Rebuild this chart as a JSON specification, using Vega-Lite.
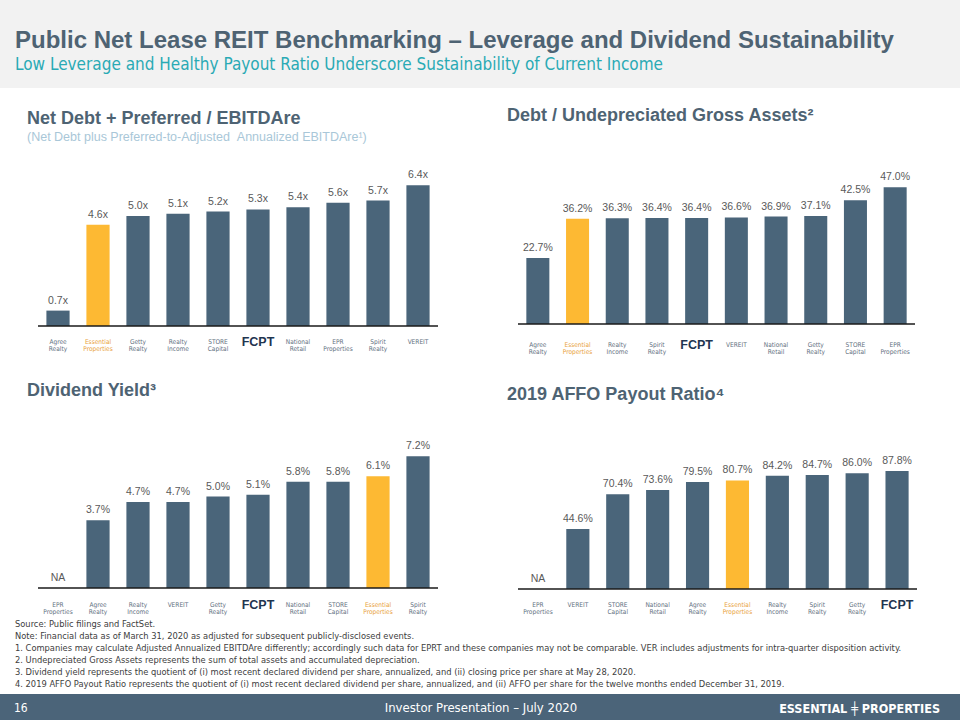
{
  "$schema": "https://vega.github.io/schema/vega-lite/v6.json",
  "background": "white",
  "padding": 0,
  "spacing": 0,
  "config": {"view": {"stroke": null}, "font": "Liberation Sans", "concat": {"spacing": 0}},
  "datasets": {
    "lev": [
      {"company": "Agree Realty", "value": 0.7, "label": "0.7x"},
      {"company": "Essential Properties", "value": 4.6, "label": "4.6x"},
      {"company": "Getty Realty", "value": 5.0, "label": "5.0x"},
      {"company": "Realty Income", "value": 5.1, "label": "5.1x"},
      {"company": "STORE Capital", "value": 5.2, "label": "5.2x"},
      {"company": "FCPT", "value": 5.3, "label": "5.3x"},
      {"company": "National Retail", "value": 5.4, "label": "5.4x"},
      {"company": "EPR Properties", "value": 5.6, "label": "5.6x"},
      {"company": "Spirit Realty", "value": 5.7, "label": "5.7x"},
      {"company": "VEREIT", "value": 6.4, "label": "6.4x"}
    ],
    "debt": [
      {"company": "Agree Realty", "value": 22.7, "label": "22.7%"},
      {"company": "Essential Properties", "value": 36.2, "label": "36.2%"},
      {"company": "Realty Income", "value": 36.3, "label": "36.3%"},
      {"company": "Spirit Realty", "value": 36.4, "label": "36.4%"},
      {"company": "FCPT", "value": 36.4, "label": "36.4%"},
      {"company": "VEREIT", "value": 36.6, "label": "36.6%"},
      {"company": "National Retail", "value": 36.9, "label": "36.9%"},
      {"company": "Getty Realty", "value": 37.1, "label": "37.1%"},
      {"company": "STORE Capital", "value": 42.5, "label": "42.5%"},
      {"company": "EPR Properties", "value": 47.0, "label": "47.0%"}
    ],
    "yield": [
      {"company": "EPR Properties", "value": null, "label": "NA"},
      {"company": "Agree Realty", "value": 3.7, "label": "3.7%"},
      {"company": "Realty Income", "value": 4.7, "label": "4.7%"},
      {"company": "VEREIT", "value": 4.7, "label": "4.7%"},
      {"company": "Getty Realty", "value": 5.0, "label": "5.0%"},
      {"company": "FCPT", "value": 5.1, "label": "5.1%"},
      {"company": "National Retail", "value": 5.8, "label": "5.8%"},
      {"company": "STORE Capital", "value": 5.8, "label": "5.8%"},
      {"company": "Essential Properties", "value": 6.1, "label": "6.1%"},
      {"company": "Spirit Realty", "value": 7.2, "label": "7.2%"}
    ],
    "payout": [
      {"company": "EPR Properties", "value": null, "label": "NA"},
      {"company": "VEREIT", "value": 44.6, "label": "44.6%"},
      {"company": "STORE Capital", "value": 70.4, "label": "70.4%"},
      {"company": "National Retail", "value": 73.6, "label": "73.6%"},
      {"company": "Agree Realty", "value": 79.5, "label": "79.5%"},
      {"company": "Essential Properties", "value": 80.7, "label": "80.7%"},
      {"company": "Realty Income", "value": 84.2, "label": "84.2%"},
      {"company": "Spirit Realty", "value": 84.7, "label": "84.7%"},
      {"company": "Getty Realty", "value": 86.0, "label": "86.0%"},
      {"company": "FCPT", "value": 87.8, "label": "87.8%"}
    ]
  },
  "vconcat": [
    {
      "width": 960, "height": 88,
      "view": {"fill": "#f2f2f2", "stroke": null},
      "data": {"values": []},
      "mark": "point",
      "title": {
        "text": "Public Net Lease REIT Benchmarking – Leverage and Dividend Sustainability",
        "subtitle": "Low Leverage and Healthy Payout Ratio Underscore Sustainability of Current Income",
        "anchor": "start", "frame": "group", "orient": "top", "offset": -73, "dx": 15,
        "font": "Liberation Sans", "fontSize": 24, "fontWeight": "bold", "color": "#4E6373",
        "subtitleFont": "DejaVu Sans Condensed, sans-serif", "subtitleFontSize": 17, "subtitleColor": "#2AAAB5", "subtitlePadding": 4
      }
    },
    {
      "spacing": 0,
      "bounds": "flush",
      "hconcat": [
        {"width": 38, "height": 1, "data": {"values": []}, "mark": "point"},
        {
          "width": 400, "height": 272,
          "data": {"name": "lev"},
          "title": {
            "text": "Net Debt + Preferred / EBITDAre",
            "subtitle": "(Net Debt plus Preferred-to-Adjusted \u00a0Annualized EBITDAre¹)",
            "anchor": "start", "frame": "group", "orient": "top", "offset": -55, "dx": -11,
            "font": "Liberation Sans", "fontSize": 18, "fontWeight": "bold", "color": "#4E6373",
            "subtitleFont": "Liberation Sans", "subtitleFontSize": 12.5, "subtitleColor": "#A9C7D8", "subtitlePadding": 3
          },
          "layer": [
            {"mark": {"type": "bar"}, "encoding": {
              "x": {"field": "company", "type": "nominal", "sort": null, "scale": {"domain": ["Agree Realty", "Essential Properties", "Getty Realty", "Realty Income", "STORE Capital", "FCPT", "National Retail", "EPR Properties", "Spirit Realty", "VEREIT"], "paddingInner": 0.42, "paddingOuter": 0.21}, "axis": null},
              "y": {"field": "value", "type": "quantitative", "scale": {"domain": [-1.545, 10.818], "nice": false, "zero": false}, "axis": null},
              "color": {"condition": {"test": "datum.company === 'Essential Properties'", "value": "#FDB933"}, "value": "#4A657A"}}},
            {"mark": {"type": "text", "baseline": "bottom", "dy": -5, "fontSize": 10.5, "color": "#595959"}, "encoding": {
              "x": {"field": "company", "type": "nominal", "sort": null},
              "y": {"field": "value", "type": "quantitative"}, "text": {"field": "label"}}},
            {"transform": [{"filter": "datum.company !== 'FCPT'"}], "mark": {"type": "text", "baseline": "middle", "lineBreak": " ", "lineHeight": 7, "fontSize": 6.5, "dy": 16, "font": "DejaVu Sans Condensed"}, "encoding": {
              "x": {"field": "company", "type": "nominal", "sort": null},
              "y": {"datum": 0, "type": "quantitative"}, "text": {"field": "company"},
              "color": {"condition": {"test": "datum.company === 'Essential Properties'", "value": "#E9A23B"}, "value": "#5F7080"}}},
            {"transform": [{"filter": "datum.company === 'FCPT'"}], "mark": {"type": "text", "baseline": "middle", "fontSize": 12.5, "fontWeight": "bold", "dy": 16, "color": "#1F3550"}, "encoding": {
              "x": {"field": "company", "type": "nominal", "sort": null},
              "y": {"datum": 0, "type": "quantitative"}, "text": {"field": "company"}}},
            {"data": {"values": [{}]}, "mark": {"type": "rule", "color": "#1a1a1a", "strokeWidth": 1.5}, "encoding": {"y": {"datum": 0, "type": "quantitative"}}}
          ]
        },
        {"width": 80, "height": 1, "data": {"values": []}, "mark": "point"},
        {
          "width": 397, "height": 272,
          "data": {"name": "debt"},
          "title": {
            "text": "Debt / Undepreciated Gross Assets²",
            "anchor": "start", "frame": "group", "orient": "top", "offset": -37, "dx": -11,
            "font": "Liberation Sans", "fontSize": 18, "fontWeight": "bold", "color": "#4E6373"
          },
          "layer": [
            {"mark": {"type": "bar"}, "encoding": {
              "x": {"field": "company", "type": "nominal", "sort": null, "scale": {"domain": ["Agree Realty", "Essential Properties", "Realty Income", "Spirit Realty", "FCPT", "VEREIT", "National Retail", "Getty Realty", "STORE Capital", "EPR Properties"], "paddingInner": 0.42, "paddingOuter": 0.21}, "axis": null},
              "y": {"field": "value", "type": "quantitative", "scale": {"domain": [-12.371, 81.1], "nice": false, "zero": false}, "axis": null},
              "color": {"condition": {"test": "datum.company === 'Essential Properties'", "value": "#FDB933"}, "value": "#4A657A"}}},
            {"mark": {"type": "text", "baseline": "bottom", "dy": -5, "fontSize": 10.5, "color": "#595959"}, "encoding": {
              "x": {"field": "company", "type": "nominal", "sort": null},
              "y": {"field": "value", "type": "quantitative"}, "text": {"field": "label"}}},
            {"transform": [{"filter": "datum.company !== 'FCPT'"}], "mark": {"type": "text", "baseline": "middle", "lineBreak": " ", "lineHeight": 7, "fontSize": 6.5, "dy": 21, "font": "DejaVu Sans Condensed"}, "encoding": {
              "x": {"field": "company", "type": "nominal", "sort": null},
              "y": {"datum": 0, "type": "quantitative"}, "text": {"field": "company"},
              "color": {"condition": {"test": "datum.company === 'Essential Properties'", "value": "#E9A23B"}, "value": "#5F7080"}}},
            {"transform": [{"filter": "datum.company === 'FCPT'"}], "mark": {"type": "text", "baseline": "middle", "fontSize": 12.5, "fontWeight": "bold", "dy": 21, "color": "#1F3550"}, "encoding": {
              "x": {"field": "company", "type": "nominal", "sort": null},
              "y": {"datum": 0, "type": "quantitative"}, "text": {"field": "company"}}},
            {"data": {"values": [{}]}, "mark": {"type": "rule", "color": "#1a1a1a", "strokeWidth": 1.5}, "encoding": {"y": {"datum": 0, "type": "quantitative"}}}
          ]
        }
      ]
    },
    {
      "spacing": 0,
      "bounds": "flush",
      "hconcat": [
        {"width": 38, "height": 1, "data": {"values": []}, "mark": "point"},
        {
          "width": 400, "height": 255,
          "data": {"name": "yield"},
          "title": {
            "text": "Dividend Yield³",
            "anchor": "start", "frame": "group", "orient": "top", "offset": -40, "dx": -11,
            "font": "Liberation Sans", "fontSize": 18, "fontWeight": "bold", "color": "#4E6373"
          },
          "layer": [
            {"mark": {"type": "bar"}, "encoding": {
              "x": {"field": "company", "type": "nominal", "sort": null, "scale": {"domain": ["EPR Properties", "Agree Realty", "Realty Income", "VEREIT", "Getty Realty", "FCPT", "National Retail", "STORE Capital", "Essential Properties", "Spirit Realty"], "paddingInner": 0.42, "paddingOuter": 0.21}, "axis": null},
              "y": {"field": "value", "type": "quantitative", "scale": {"domain": [-1.475, 12.459], "nice": false, "zero": false}, "axis": null},
              "color": {"condition": {"test": "datum.company === 'Essential Properties'", "value": "#FDB933"}, "value": "#4A657A"}}},
            {"mark": {"type": "text", "baseline": "bottom", "dy": -5, "fontSize": 10.5, "color": "#595959"}, "encoding": {
              "x": {"field": "company", "type": "nominal", "sort": null},
              "y": {"field": "value", "type": "quantitative"}, "text": {"field": "label"}}},
            {"transform": [{"filter": "datum.value === null"}], "mark": {"type": "text", "baseline": "bottom", "dy": -5, "fontSize": 10.5, "color": "#595959"}, "encoding": {
              "x": {"field": "company", "type": "nominal", "sort": null},
              "y": {"datum": 0, "type": "quantitative"}, "text": {"field": "label"}}},
            {"transform": [{"filter": "datum.company !== 'FCPT'"}], "mark": {"type": "text", "baseline": "middle", "lineBreak": " ", "lineHeight": 7, "fontSize": 6.5, "dy": 17, "font": "DejaVu Sans Condensed"}, "encoding": {
              "x": {"field": "company", "type": "nominal", "sort": null},
              "y": {"datum": 0, "type": "quantitative"}, "text": {"field": "company"},
              "color": {"condition": {"test": "datum.company === 'Essential Properties'", "value": "#E9A23B"}, "value": "#5F7080"}}},
            {"transform": [{"filter": "datum.company === 'FCPT'"}], "mark": {"type": "text", "baseline": "middle", "fontSize": 12.5, "fontWeight": "bold", "dy": 17, "color": "#1F3550"}, "encoding": {
              "x": {"field": "company", "type": "nominal", "sort": null},
              "y": {"datum": 0, "type": "quantitative"}, "text": {"field": "company"}}},
            {"data": {"values": [{}]}, "mark": {"type": "rule", "color": "#1a1a1a", "strokeWidth": 1.5}, "encoding": {"y": {"datum": 0, "type": "quantitative"}}}
          ]
        },
        {"width": 80, "height": 1, "data": {"values": []}, "mark": "point"},
        {
          "width": 399, "height": 255,
          "data": {"name": "payout"},
          "title": {
            "text": "2019 AFFO Payout Ratio⁴",
            "anchor": "start", "frame": "group", "orient": "top", "offset": -44, "dx": -11,
            "font": "Liberation Sans", "fontSize": 18, "fontWeight": "bold", "color": "#4E6373"
          },
          "layer": [
            {"mark": {"type": "bar"}, "encoding": {
              "x": {"field": "company", "type": "nominal", "sort": null, "scale": {"domain": ["EPR Properties", "VEREIT", "STORE Capital", "National Retail", "Agree Realty", "Essential Properties", "Realty Income", "Spirit Realty", "Getty Realty", "FCPT"], "paddingInner": 0.42, "paddingOuter": 0.21}, "axis": null},
              "y": {"field": "value", "type": "quantitative", "scale": {"domain": [-19.331, 170.26], "nice": false, "zero": false}, "axis": null},
              "color": {"condition": {"test": "datum.company === 'Essential Properties'", "value": "#FDB933"}, "value": "#4A657A"}}},
            {"mark": {"type": "text", "baseline": "bottom", "dy": -5, "fontSize": 10.5, "color": "#595959"}, "encoding": {
              "x": {"field": "company", "type": "nominal", "sort": null},
              "y": {"field": "value", "type": "quantitative"}, "text": {"field": "label"}}},
            {"transform": [{"filter": "datum.value === null"}], "mark": {"type": "text", "baseline": "bottom", "dy": -5, "fontSize": 10.5, "color": "#595959"}, "encoding": {
              "x": {"field": "company", "type": "nominal", "sort": null},
              "y": {"datum": 0, "type": "quantitative"}, "text": {"field": "label"}}},
            {"transform": [{"filter": "datum.company !== 'FCPT'"}], "mark": {"type": "text", "baseline": "middle", "lineBreak": " ", "lineHeight": 7, "fontSize": 6.5, "dy": 16, "font": "DejaVu Sans Condensed"}, "encoding": {
              "x": {"field": "company", "type": "nominal", "sort": null},
              "y": {"datum": 0, "type": "quantitative"}, "text": {"field": "company"},
              "color": {"condition": {"test": "datum.company === 'Essential Properties'", "value": "#E9A23B"}, "value": "#5F7080"}}},
            {"transform": [{"filter": "datum.company === 'FCPT'"}], "mark": {"type": "text", "baseline": "middle", "fontSize": 12.5, "fontWeight": "bold", "dy": 16, "color": "#1F3550"}, "encoding": {
              "x": {"field": "company", "type": "nominal", "sort": null},
              "y": {"datum": 0, "type": "quantitative"}, "text": {"field": "company"}}},
            {"data": {"values": [{}]}, "mark": {"type": "rule", "color": "#1a1a1a", "strokeWidth": 1.5}, "encoding": {"y": {"datum": 0, "type": "quantitative"}}}
          ]
        }
      ]
    },
    {
      "width": 960, "height": 78,
      "data": {"values": []},
      "mark": "point",
      "title": {
        "text": [
          "Source: Public filings and FactSet.",
          "Note: Financial data as of March 31, 2020 as adjusted for subsequent publicly-disclosed events.",
          "1.  Companies may calculate Adjusted Annualized  EBITDAre differently; accordingly such data for EPRT and these companies may not be comparable.  VER includes adjustments for intra-quarter disposition activity.",
          "2.  Undepreciated Gross Assets represents the sum of total assets and accumulated depreciation.",
          "3.  Dividend yield represents the quotient of (i) most recent declared dividend per share, annualized, and (ii) closing price per share at May 28, 2020.",
          "4.  2019 AFFO Payout Ratio represents  the quotient of (i) most recent declared  dividend per share, annualized,  and (ii) AFFO per  share  for the twelve months ended  December 31, 2019."
        ],
        "anchor": "start", "frame": "group", "orient": "top", "offset": -73, "dx": 15,
        "font": "DejaVu Sans Condensed, sans-serif", "fontSize": 9.25, "fontWeight": "normal", "color": "#404040", "lineHeight": 12
      }
    },
    {
      "spacing": 0,
      "bounds": "flush",
      "hconcat": [
        {
          "width": 320, "height": 27, "view": {"fill": "#4B6479", "stroke": null},
          "data": {"values": []}, "mark": "point",
          "title": {"text": "16", "anchor": "start", "frame": "group", "orient": "top", "offset": -21, "dx": 14, "font": "DejaVu Sans Condensed, sans-serif", "fontSize": 12, "fontWeight": "normal", "color": "white"}
        },
        {
          "width": 320, "height": 27, "view": {"fill": "#4B6479", "stroke": null},
          "data": {"values": []}, "mark": "point",
          "title": {"text": "Investor Presentation – July 2020", "anchor": "middle", "frame": "group", "orient": "top", "offset": -21, "dx": 1, "font": "DejaVu Sans Condensed, sans-serif", "fontSize": 13, "fontWeight": "normal", "color": "white"}
        },
        {
          "width": 320, "height": 27, "view": {"fill": "#4B6479", "stroke": null},
          "data": {"values": []}, "mark": "point",
          "title": {"text": "ESSENTIAL ╪ PROPERTIES", "anchor": "end", "frame": "group", "orient": "top", "offset": -21, "dx": -20, "font": "DejaVu Sans Condensed, sans-serif", "fontSize": 12.5, "fontWeight": "bold", "color": "white"}
        }
      ]
    }
  ]
}
